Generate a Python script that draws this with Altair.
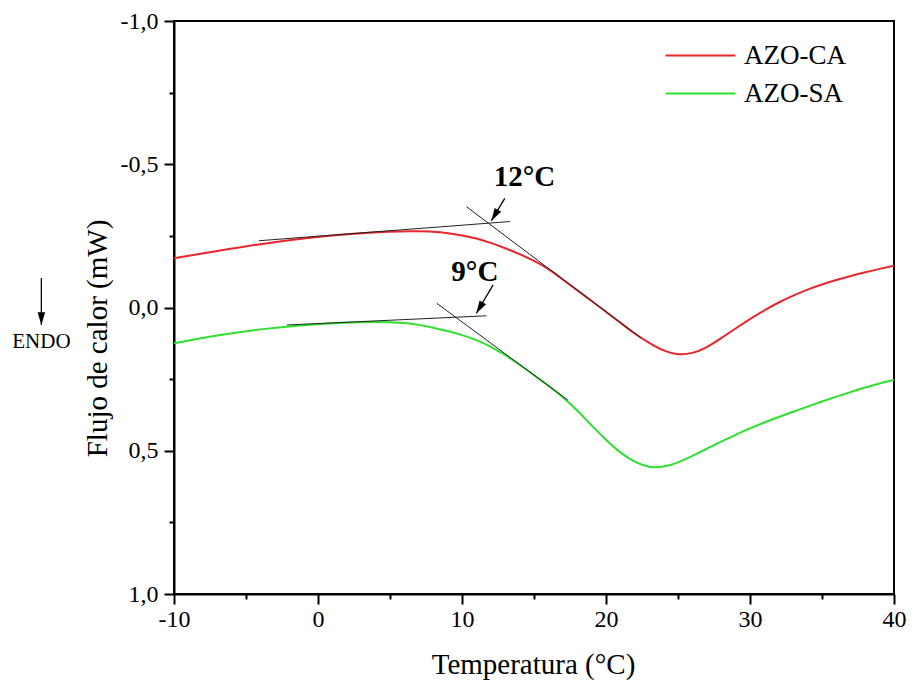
import altair as alt
import pandas as pd

# ---- data ----
series_names = ["AZO-CA", "AZO-SA"]
series_colors = ["#e8262c", "#2ee02e"]

red_T = [-10, -7, -4, -1, 2, 5, 7, 8.5, 10, 11, 12, 13, 14, 15, 16, 17, 18, 19, 20,
         21, 22, 23, 24, 25, 26, 27, 28, 29, 30, 31, 32, 33, 34, 35, 36, 37, 38, 39, 40]
red_v = [-0.172, -0.197, -0.222, -0.242, -0.256, -0.266, -0.267, -0.264, -0.252, -0.242,
         -0.226, -0.207, -0.187, -0.163, -0.136, -0.098, -0.060, -0.023, 0.015, 0.053,
         0.092, 0.124, 0.152, 0.166, 0.161, 0.140, 0.107, 0.073, 0.040, 0.009, -0.018,
         -0.042, -0.063, -0.081, -0.096, -0.110, -0.123, -0.135, -0.146]

green_T = [-10, -7, -4, -1, 2, 4, 5, 6, 7, 8, 9, 10, 11, 12, 13, 14, 15, 16, 17, 18, 19,
           20, 21, 22, 23, 24, 25, 26, 27, 28, 29, 30, 31, 32, 33, 34, 35, 36, 37, 38, 39, 40]
green_v = [0.125, 0.097, 0.075, 0.061, 0.052, 0.050, 0.051, 0.054, 0.060, 0.070, 0.082,
           0.096, 0.113, 0.136, 0.166, 0.199, 0.236, 0.273, 0.312, 0.358, 0.412, 0.462,
           0.508, 0.540, 0.559, 0.557, 0.542, 0.518, 0.493, 0.468, 0.444, 0.422, 0.401,
           0.382, 0.364, 0.346, 0.328, 0.311, 0.295, 0.279, 0.265, 0.253]

# tangent construction lines
tan_id = ["ca_base", "ca_base", "ca_steep", "ca_steep", "sa_base", "sa_base", "sa_steep", "sa_steep"]
tan_T = [-4.11, 13.32, 10.31, 22.41, -2.15, 11.70, 8.24, 17.35]
tan_v = [-0.233, -0.300, -0.352, 0.106, 0.061, 0.029, -0.015, 0.323]

# arrows (shaft start -> tip)
arrow_id = ["a12", "a12", "a9", "a9", "endo", "endo"]
arrow_T = [12.97, 12.04, 12.16, 11.0, -19.21, -19.21]
arrow_v = [-0.381, -0.303, -0.079, 0.020, -0.103, 0.061]

head_T = [12.04, 11.0, -19.21]
head_v = [-0.303, 0.020, 0.061]
head_angle = [31, 30.5, 0]

label_text = ["12°C", "9°C"]
label_T = [14.34, 10.89]
label_v = [-0.457, -0.125]

endo_text = ["ENDO"]
endo_T = [-19.21]
endo_v = [0.120]

x_ticks = [-10, -5, 0, 5, 10, 15, 20, 25, 30, 35, 40]
y_ticks = [-1.0, -0.75, -0.5, -0.25, 0.0, 0.25, 0.5, 0.75, 1.0]

# ---- tables ----
curves = pd.concat([
    pd.DataFrame({"T": red_T, "v": red_v, "series": series_names[0], "o": range(len(red_T))}),
    pd.DataFrame({"T": green_T, "v": green_v, "series": series_names[1], "o": range(len(green_T))}),
])
tangents = pd.DataFrame({"T": tan_T, "v": tan_v, "seg": tan_id})
arrows = pd.DataFrame({"T": arrow_T, "v": arrow_v, "seg": arrow_id})
heads = pd.DataFrame({"T": head_T, "v": head_v, "ang": head_angle})
labels = pd.DataFrame({"T": label_T, "v": label_v, "txt": label_text})
endo = pd.DataFrame({"T": endo_T, "v": endo_v, "txt": endo_text})

FONT = "Liberation Serif"
xscale = alt.Scale(domain=[-10, 40], nice=False, zero=False)
yscale = alt.Scale(domain=[-1, 1], reverse=True, nice=False, zero=False)

x_axis = alt.Axis(
    values=x_ticks,
    labelExpr="datum.value % 10 == 0 ? ((datum.value < 0 ? '-' : '') + abs(datum.value)) : ''",
    tickSize={"condition": {"test": "datum.value % 10 == 0", "value": 10}, "value": 5},
    labelOverlap=False, labelFlush=False, labelPadding=3,
    labelFont=FONT, labelFontSize=24, labelColor="black",
    title="Temperatura (°C)", titleFont=FONT, titleFontSize=29, titleFontWeight="normal",
    titleColor="black", titleX=359, titleY=70,
    titleBaseline="middle", titleAlign="center",
)
y_axis = alt.Axis(
    values=y_ticks,
    labelExpr="abs(datum.value*2 - round(datum.value*2)) > 0.001 ? '' : ((datum.value < 0 ? '-' : '') + replace(format(abs(datum.value), '.1f'), '.', ','))",
    tickSize={"condition": {"test": "abs(datum.value*2 - round(datum.value*2)) < 0.001", "value": 10}, "value": 5},
    labelOverlap=False, labelFlush=False, labelPadding=6,
    labelFont=FONT, labelFontSize=24, labelColor="black",
    title="Flujo de calor (mW)", titleFont=FONT, titleFontSize=29, titleFontWeight="normal",
    titleColor="black", titleX=-77, titleY=317,
    titleBaseline="middle", titleAlign="center", titleAngle=-90,
)

X = alt.X("T:Q", scale=xscale, axis=x_axis)
Y = alt.Y("v:Q", scale=yscale, axis=y_axis)

lines = alt.Chart(curves).mark_line(strokeWidth=2, interpolate="basis").encode(
    x=X, y=Y,
    order="o:Q",
    color=alt.Color(
        "series:N",
        scale=alt.Scale(domain=series_names, range=series_colors),
        legend=alt.Legend(
            title=None, orient="none", legendX=513, legendY=21,
            symbolType="M-3,0L3,0", symbolSize=544, symbolStrokeWidth=2,
            labelFont=FONT, labelFontSize=27, labelColor="black",
            labelOffset=30, rowPadding=10, padding=0,
        ),
    ),
)

tan_layer = alt.Chart(tangents).mark_line(strokeWidth=1, color="#222222").encode(
    x=X, y=Y, detail="seg:N",
)

arrow_layer = alt.Chart(arrows).mark_line(strokeWidth=1.3, color="black").encode(
    x=X, y=Y, detail="seg:N",
)

head_layer = alt.Chart(heads).mark_point(
    shape="M-0.6,-2L0.6,-2L0,0Z", filled=True, color="black", size=160, opacity=1
).encode(
    x=X, y=Y,
    angle=alt.Angle("ang:Q", scale=None),
)

label_layer = alt.Chart(labels).mark_text(
    font=FONT, fontSize=29, fontWeight="bold", color="black", align="center", baseline="middle"
).encode(
    x=X, y=Y, text="txt:N",
)

endo_layer = alt.Chart(endo).mark_text(
    font=FONT, fontSize=21, color="black", align="center", baseline="middle"
).encode(
    x=X, y=Y, text="txt:N",
)

chart = alt.layer(
    lines, tan_layer, arrow_layer, head_layer, label_layer, endo_layer
).properties(
    width=720, height=573,
    autosize=alt.AutoSizeParams(type="none"),
    padding={"left": 166, "top": 13, "right": 12, "bottom": 86},
).configure_view(
    stroke="black", strokeWidth=2
).configure_axis(
    domainColor="black", domainWidth=2, tickColor="black", tickWidth=2, grid=False,
    labelColor="black", titleColor="black", labelFont=FONT, titleFont=FONT,
    labelFontSize=24, titleFontWeight="normal",
)

chart.save("out.html", embed_options={"renderer": "svg", "actions": False})
